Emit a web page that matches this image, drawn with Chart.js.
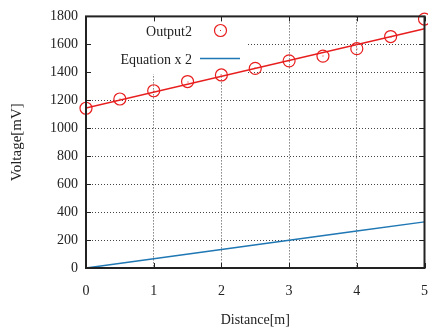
<!DOCTYPE html>
<html>
<head>
<meta charset="utf-8">
<script src="https://cdn.jsdelivr.net/npm/chart.js@4/dist/chart.umd.min.js"></script>
<style>
  html, body { margin: 0; padding: 0; background: #fff; overflow: hidden; }
  #wrap { width: 428px; height: 328px; overflow: hidden; }
</style>
</head>
<body>
<div id="wrap"><canvas id="voltChart" width="443" height="328"></canvas></div>
<script>
// Data
const distances = [0, 0.5, 1, 1.5, 2, 2.5, 3, 3.5, 4, 4.5, 5];
const output2Values = [1143, 1209, 1268, 1334, 1381, 1428, 1482, 1516, 1569, 1656, 1781];
const fitDistances = [0, 5];
const fitValues = [1145, 1712];
const equationDistances = [0, 1, 2, 3, 4, 5];
const equationValues = [0, 66, 132, 198, 264, 330];
const xTicks = [0, 1, 2, 3, 4, 5];
const yTicks = [0, 200, 400, 600, 800, 1000, 1200, 1400, 1600, 1800];

const RED = "rgb(232,30,30)";
const BLUE = "rgb(31,119,180)";
const FONT = "'Liberation Serif', 'DejaVu Serif', serif";

const toXY = (xs, ys) => xs.map((x, i) => ({ x: x, y: ys[i] }));

// frame, inward ticks, point dots and the boxed legend
const framePlugin = {
    id: "frame",
    beforeDatasetsDraw(chart) {
        const ctx = chart.ctx;
        const a = chart.chartArea;
        ctx.save();
        ctx.fillStyle = "#fff";
        ctx.fillRect(a.left, a.top, 161, 58);
        ctx.font = "14px " + FONT;
        ctx.fillStyle = "#222";
        ctx.textAlign = "right";
        ctx.textBaseline = "middle";
        const ds = chart.data.datasets;
        ctx.fillText(ds[0].label, 192, 32);
        ctx.strokeStyle = RED;
        ctx.lineWidth = 1.2;
        ctx.beginPath();
        ctx.arc(220.5, 30.5, 6, 0, Math.PI * 2);
        ctx.stroke();
        ctx.fillStyle = RED;
        ctx.fillRect(220, 30, 1, 1);
        ctx.fillStyle = "#222";
        ctx.fillText(ds[2].label, 192, 60);
        ctx.strokeStyle = ds[2].borderColor;
        ctx.lineWidth = 1.5;
        ctx.beginPath();
        ctx.moveTo(200, 58.5);
        ctx.lineTo(240, 58.5);
        ctx.stroke();
        ctx.restore();
    },
    afterDatasetsDraw(chart) {
        const ctx = chart.ctx;
        const a = chart.chartArea;
        const xs = chart.scales.x, ys = chart.scales.y;
        const t = 5;
        ctx.save();
        ctx.fillStyle = RED;
        chart.getDatasetMeta(0).data.forEach(p => {
            ctx.fillRect(Math.round(p.x) - 0.5, Math.round(p.y) - 0.5, 1, 1);
        });
        ctx.strokeStyle = "#222";
        ctx.lineWidth = 1;
        ctx.beginPath();
        xTicks.forEach(v => {
            const px = Math.round(xs.getPixelForValue(v)) + 0.5;
            ctx.moveTo(px, a.bottom); ctx.lineTo(px, a.bottom - t);
            ctx.moveTo(px, a.top); ctx.lineTo(px, a.top + t);
        });
        yTicks.forEach(v => {
            const py = Math.round(ys.getPixelForValue(v)) + 0.5;
            ctx.moveTo(a.left, py); ctx.lineTo(a.left + t, py);
            ctx.moveTo(a.right, py); ctx.lineTo(a.right - t, py);
        });
        ctx.stroke();
        ctx.lineWidth = 2;
        ctx.strokeRect(a.left, a.top, a.right - a.left, a.bottom - a.top);
        ctx.restore();
    }
};

const ctx = document.getElementById("voltChart").getContext("2d");
new Chart(ctx, {
    type: "scatter",
    data: {
        datasets: [{
            label: "Output2",
            data: toXY(distances, output2Values),
            pointStyle: "circle",
            pointRadius: 6,
            borderColor: RED,
            backgroundColor: "rgba(0,0,0,0)",
            pointBorderWidth: 1.2,
            showLine: false,
            clip: false
        }, {
            label: "fit",
            data: toXY(fitDistances, fitValues),
            showLine: true,
            borderColor: RED,
            borderWidth: 1.5,
            pointRadius: 0
        }, {
            label: "Equation x 2",
            data: toXY(equationDistances, equationValues),
            showLine: true,
            borderColor: BLUE,
            borderWidth: 1.5,
            pointRadius: 0
        }]
    },
    options: {
        responsive: false,
        animation: false,
        events: [],
        layout: { padding: { top: 13, right: 15, left: 0, bottom: 0 } },
        plugins: { legend: { display: false }, tooltip: { enabled: false } },
        scales: {
            x: {
                type: "linear",
                min: 0, max: 5,
                afterFit: s => { s.height = 60; },
                afterBuildTicks: s => { s.ticks = xTicks.map(v => ({ value: v })); },
                ticks: { color: "#222", font: { family: FONT, size: 14 }, padding: 15, maxRotation: 0,
                         callback: v => String(v) },
                grid: { color: "#444", lineWidth: 1, drawTicks: false, borderDash: [1, 2] },
                border: { display: false, dash: [1, 2] },
                title: { display: true, text: "Distance[m]", color: "#222", font: { family: FONT, size: 14 }, padding: { top: 0, bottom: -1 } }
            },
            y: {
                min: 0, max: 1800,
                afterFit: s => { s.width = 86; },
                afterBuildTicks: s => { s.ticks = yTicks.map(v => ({ value: v })); },
                ticks: { color: "#222", font: { family: FONT, size: 14 }, padding: 8,
                         callback: v => String(v) },
                grid: { color: "#444", lineWidth: 1, drawTicks: false, borderDash: [1, 2] },
                border: { display: false, dash: [1, 2] },
                title: { display: true, text: "Voltage[mV]", color: "#222", font: { family: FONT, size: 15 }, padding: { top: 8, bottom: 0 } }
            }
        }
    },
    plugins: [framePlugin]
});
</script>
</body>
</html>
